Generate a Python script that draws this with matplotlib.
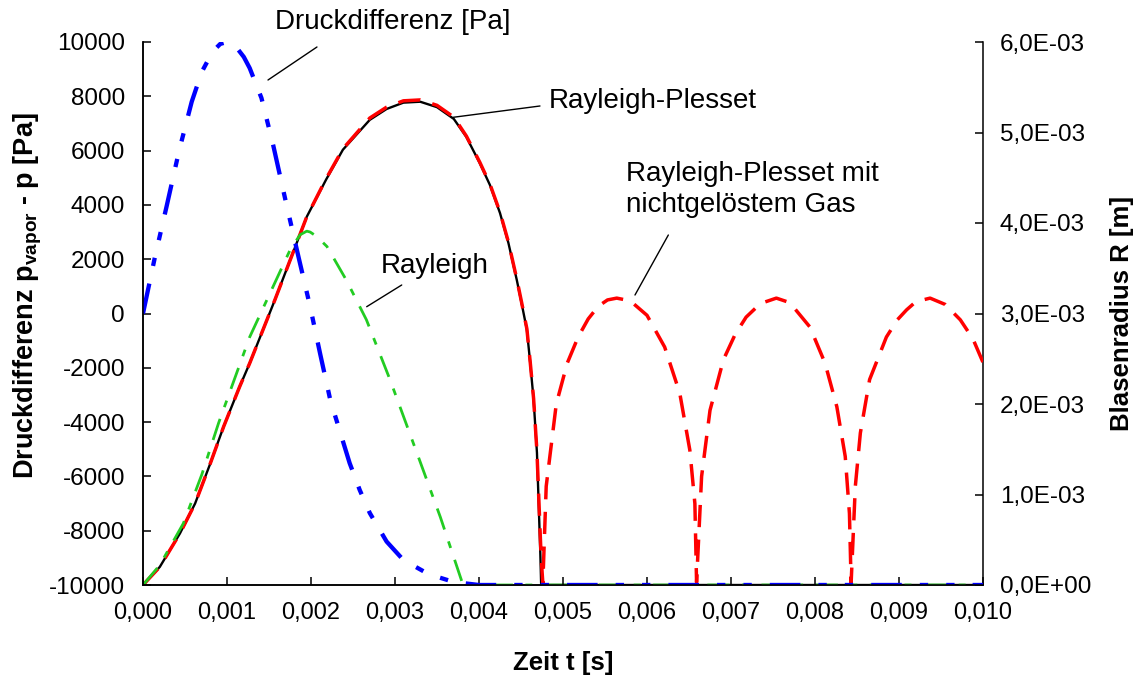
import matplotlib
matplotlib.use('Agg')
import matplotlib.pyplot as plt
from matplotlib.ticker import FuncFormatter, MultipleLocator

plt.rcParams['font.family'] = ['Liberation Sans', 'DejaVu Sans']
plt.rcParams['mathtext.fontset'] = 'custom'
plt.rcParams['mathtext.rm'] = 'Liberation Sans'
plt.rcParams['mathtext.bf'] = 'Liberation Sans:bold'
plt.rcParams['lines.scale_dashes'] = False

# Druckdifferenz [Pa] (left axis)
t_druck = [0, 0.00014, 0.00028, 0.00043, 0.00058, 0.00070, 0.00083, 0.00092, 0.00100,
           0.00110, 0.00120, 0.00127, 0.00141, 0.00155, 0.00170, 0.00185, 0.00199,
           0.00211, 0.00223, 0.00246, 0.00258, 0.00270, 0.00290, 0.00310, 0.00340,
           0.00370, 0.00400, 0.01000]
p_druck = [0, 2050, 3933, 6000, 7800, 8900, 9650, 9930, 10000,
           9850, 9450, 9040, 7940, 6200, 4120, 2100, 250,
           -1500, -3190, -5510, -6500, -7350, -8400, -9080, -9600,
           -9890, -10000, -10000]

# Rayleigh-Plesset radius [m] (right axis)
t_rp = [0, 0.0002, 0.00044, 0.00062, 0.0008, 0.00096, 0.00115, 0.00127, 0.00157,
        0.00195, 0.00218, 0.00238, 0.0027, 0.0029, 0.0031, 0.0033, 0.0035, 0.0037,
        0.00385, 0.00401, 0.00413, 0.00425, 0.00435, 0.00445, 0.00451, 0.00457,
        0.00461, 0.00465, 0.00469, 0.00473, 0.00474, 0.0100]
r_rp = [0, 0.20e-3, 0.57e-3, 0.90e-3, 1.34e-3, 1.75e-3, 2.19e-3, 2.45e-3, 3.15e-3,
        4.07e-3, 4.48e-3, 4.81e-3, 5.14e-3, 5.26e-3, 5.33e-3, 5.34e-3, 5.28e-3, 5.15e-3,
        4.95e-3, 4.66e-3, 4.42e-3, 4.11e-3, 3.78e-3, 3.37e-3, 3.10e-3, 2.82e-3,
        2.45e-3, 2.05e-3, 1.46e-3, 0.35e-3, 0.0, 0.0]

# Rayleigh-Plesset mit nichtgeloestem Gas radius [m]
t_gas = [0, 0.0002, 0.00044, 0.00062, 0.0008, 0.00096, 0.00115, 0.00127, 0.00157,
         0.00195, 0.00218, 0.00238, 0.0027, 0.0029, 0.0031, 0.0033, 0.0035, 0.0037,
         0.00385, 0.00401, 0.00413, 0.00425, 0.00435, 0.00445, 0.00451, 0.00457,
         0.00461, 0.00465, 0.00469, 0.00474, 0.00476,
         0.0048, 0.00492, 0.00505, 0.00518, 0.00530, 0.00542, 0.00553, 0.00564, 0.00580,
         0.0060, 0.00621, 0.00639, 0.00651, 0.00657, 0.00659, 0.00665, 0.00675, 0.00691,
         0.00705, 0.00718, 0.00735, 0.00754, 0.00770, 0.00794, 0.00812, 0.00826, 0.00836,
         0.00841, 0.00843, 0.00848, 0.00854, 0.00865, 0.00885, 0.00898, 0.00909, 0.00920,
         0.00937, 0.00955, 0.00973, 0.00988, 0.0100]
r_gas = [0, 0.20e-3, 0.57e-3, 0.90e-3, 1.34e-3, 1.75e-3, 2.19e-3, 2.45e-3, 3.15e-3,
         4.07e-3, 4.49e-3, 4.82e-3, 5.16e-3, 5.28e-3, 5.35e-3, 5.36e-3, 5.30e-3, 5.17e-3,
         4.96e-3, 4.67e-3, 4.43e-3, 4.12e-3, 3.79e-3, 3.38e-3, 3.11e-3, 2.83e-3,
         2.46e-3, 2.06e-3, 1.47e-3, 0.30e-3, 0.02e-3,
         1.09e-3, 2.00e-3, 2.45e-3, 2.74e-3, 2.94e-3, 3.08e-3, 3.15e-3, 3.17e-3, 3.14e-3,
         2.98e-3, 2.63e-3, 2.12e-3, 1.49e-3, 0.90e-3, 0.03e-3, 1.20e-3, 1.93e-3, 2.49e-3,
         2.77e-3, 2.96e-3, 3.11e-3, 3.17e-3, 3.12e-3, 2.85e-3, 2.45e-3, 1.97e-3, 1.42e-3,
         0.79e-3, 0.02e-3, 1.09e-3, 1.68e-3, 2.27e-3, 2.74e-3, 2.93e-3, 3.04e-3, 3.13e-3,
         3.17e-3, 3.10e-3, 2.93e-3, 2.72e-3, 2.46e-3]

# Rayleigh radius [m]
t_ray = [0, 0.0002, 0.00048, 0.0007, 0.0009, 0.00127, 0.00163, 0.00175, 0.00187,
         0.00195, 0.00199, 0.00207, 0.00219, 0.00242, 0.00266, 0.00294, 0.0033,
         0.00354, 0.00381, 0.0100]
r_ray = [0, 0.22e-3, 0.68e-3, 1.22e-3, 1.79e-3, 2.74e-3, 3.46e-3, 3.70e-3, 3.87e-3,
         3.91e-3, 3.90e-3, 3.85e-3, 3.74e-3, 3.37e-3, 2.93e-3, 2.27e-3, 1.36e-3,
         0.75e-3, 0.0, 0.0]

fig = plt.figure(figsize=(11.4, 6.78), dpi=100)
ax = fig.add_axes([143/1140, 1 - 585/678, 840/1140, 543/678])
ax2 = ax.twinx()

ax2.plot(t_rp, r_rp, color='black', lw=1.7, zorder=2)
ax2.plot(t_gas, r_gas, color='#FF0000', lw=2.5, dashes=(16, 9), zorder=3)
ax2.plot(t_ray, r_ray, color='#22CC22', lw=2.0, dashes=(16, 9, 5, 9), zorder=4)
ax.plot(t_druck, p_druck, color='#0000FF', lw=3.1, dashes=(22, 13, 6, 13, 6, 13))

ax.set_zorder(ax2.get_zorder() + 1)
ax.patch.set_visible(False)

ax.set_xlim(0, 0.010)
ax.set_ylim(-10000, 10000)
ax2.set_ylim(0, 0.006)

ax.xaxis.set_major_locator(MultipleLocator(0.001))
ax.yaxis.set_major_locator(MultipleLocator(2000))
ax2.yaxis.set_major_locator(MultipleLocator(0.001))
ax.xaxis.set_major_formatter(FuncFormatter(lambda v, p: f"{v:.3f}".replace('.', ',')))
ax.yaxis.set_major_formatter(FuncFormatter(lambda v, p: f"{int(round(v))}"))
ax2.yaxis.set_major_formatter(FuncFormatter(lambda v, p: f"{v:.1E}".replace('.', ',')))

for a in (ax, ax2):
    a.spines['top'].set_visible(False)
    for s in a.spines.values():
        s.set_linewidth(1.1)
ax.spines['right'].set_visible(False)
ax.tick_params(axis='x', direction='in', length=6, width=1.1, labelsize=17, pad=12)
ax.tick_params(axis='y', direction='in', length=6, width=1.1, labelsize=17.5, pad=13)
ax2.tick_params(axis='y', direction='in', length=6, width=1.1, labelsize=17.5, pad=12)

ax.set_xlabel('Zeit t [s]', fontsize=18.5, fontweight='bold', labelpad=20)
ax.set_ylabel(r'Druckdifferenz p$_{\mathbf{vapor}}$ - p [Pa]', fontsize=19.5,
              fontweight='bold', labelpad=4)
ax.yaxis.set_label_coords(-0.118, 0.532)
ax2.set_ylabel('Blasenradius R [m]', fontsize=18.5, fontweight='bold', labelpad=14)

# annotations (text + leader lines)
line = dict(arrowstyle='-', lw=1, color='black', shrinkA=0, shrinkB=0)
fs = 20
ax.text(0.002976, 10737, 'Druckdifferenz [Pa]', fontsize=fs, ha='center', va='center', clip_on=False)
ax.annotate('', xy=(0.001488, 8600), xytext=(0.002071, 9816), arrowprops=line, annotation_clip=False)
ax.text(0.004833, 7827, 'Rayleigh-Plesset', fontsize=fs, ha='left', va='center')
ax.annotate('', xy=(0.003694, 7227), xytext=(0.004726, 7643), arrowprops=line)
ax.text(0.002833, 1750, 'Rayleigh', fontsize=fs, ha='left', va='center')
ax.annotate('', xy=(0.002663, 250), xytext=(0.00308, 1050), arrowprops=line)
ax.text(0.005750, 4585, 'Rayleigh-Plesset mit\nnichtgelöstem Gas', fontsize=fs,
        ha='left', va='center', linespacing=1.25)
ax.annotate('', xy=(0.005857, 681), xytext=(0.006254, 2891), arrowprops=line)

fig.savefig('out.png', dpi=100)
